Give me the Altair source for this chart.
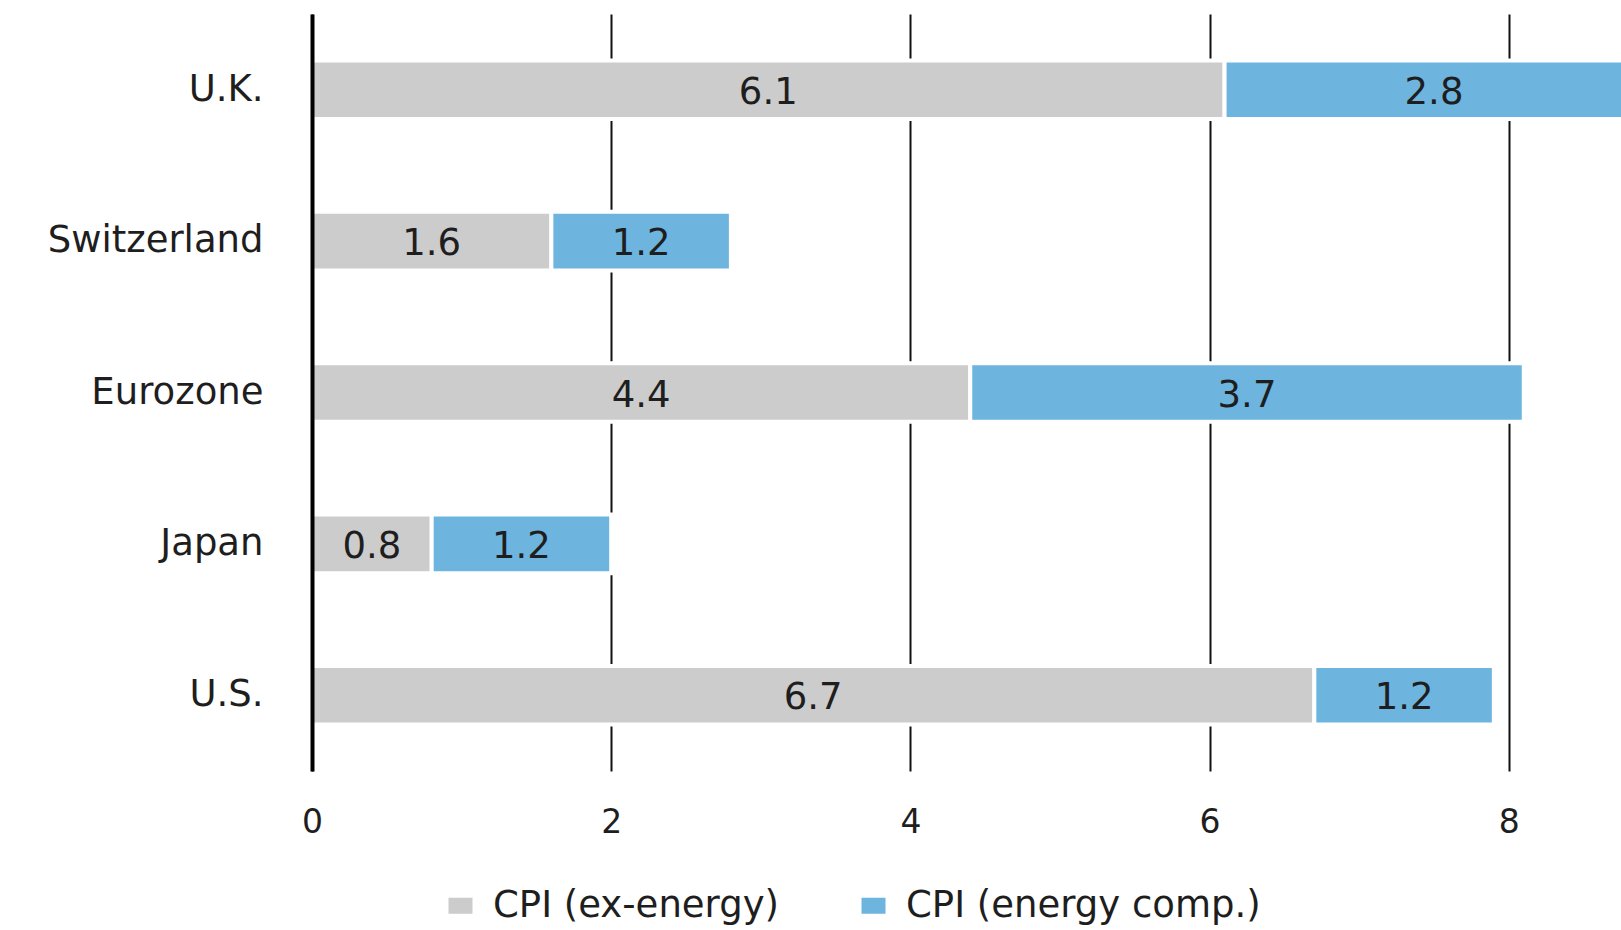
import altair as alt
import pandas as pd

# Headline CPI split into core (ex-energy) and energy contribution, % y/y
countries = ["U.K.", "Switzerland", "Eurozone", "Japan", "U.S."]
cpi_ex_energy = [6.1, 1.6, 4.4, 0.8, 6.7]
cpi_energy = [2.8, 1.2, 3.7, 1.2, 1.2]
series_names = ["CPI (ex-energy)", "CPI (energy comp.)"]
series_colors = ["#cccccc", "#6db4de"]
x_ticks = [0, 2, 4, 6, 8]

rows = []
for c, core, energy in zip(countries, cpi_ex_energy, cpi_energy):
    rows.append({"country": c, "series": series_names[0], "value": core,
                 "start": 0.0, "end": core})
    rows.append({"country": c, "series": series_names[1], "value": energy,
                 "start": core, "end": core + energy})
df = pd.DataFrame(rows)
df["mid"] = (df["start"] + df["end"]) / 2
df["label"] = df["value"].map(lambda v: f"{v:.1f}")

FONT = "DejaVu Sans"
TEXT = "#1e1e1e"

x_scale = alt.Scale(domain=[0, 8.75], nice=False, zero=True)
y_scale = alt.Scale(domain=countries, paddingInner=0.613, paddingOuter=0.3065)

bars = alt.Chart(df).mark_bar(stroke="white", strokeWidth=4, clip=True).encode(
    x=alt.X("start:Q", scale=x_scale, title=None,
            axis=alt.Axis(values=x_ticks, grid=True, gridColor="#111111",
                          gridWidth=2, domain=False, ticks=False,
                          labelFont=FONT, labelFontSize=33, labelColor=TEXT,
                          labelPadding=35, labelFlush=False, format="d")),
    x2="end:Q",
    y=alt.Y("country:N", scale=y_scale, sort=countries, title=None,
            axis=alt.Axis(domain=True, domainColor="#000000", domainWidth=4,
                          ticks=False, grid=False, labelFont=FONT,
                          labelFontSize=37, labelColor=TEXT, labelPadding=49,
                          labelLimit=400, zindex=1)),
    color=alt.Color("series:N",
                    scale=alt.Scale(domain=series_names, range=series_colors),
                    legend=alt.Legend(
                        title=None, orient="none", direction="horizontal",
                        legendX=130, legendY=873,
                        symbolType="M-1,-0.667H1V0.667H-1Z", symbolSize=576,
                        symbolStrokeWidth=0, labelFont=FONT, labelFontSize=37,
                        labelColor=TEXT, labelOffset=14, columnPadding=76,
                        labelLimit=600)),
    order=alt.Order("start:Q"),
)

labels = alt.Chart(df).mark_text(font=FONT, fontSize=37, color=TEXT, dy=3,
                                 baseline="middle", align="center").encode(
    x=alt.X("mid:Q", scale=x_scale),
    y=alt.Y("country:N", scale=y_scale, sort=countries),
    text="label:N",
)

chart = alt.layer(bars, labels).properties(
    width=1309,
    height=757,
    background="white",
    autosize=alt.AutoSizeParams(type="none"),
    padding={"left": 312, "top": 14, "right": 0, "bottom": 159},
).configure_view(stroke=None, strokeWidth=0)

chart.save("out.html", embed_options={"renderer": "svg", "actions": False})
